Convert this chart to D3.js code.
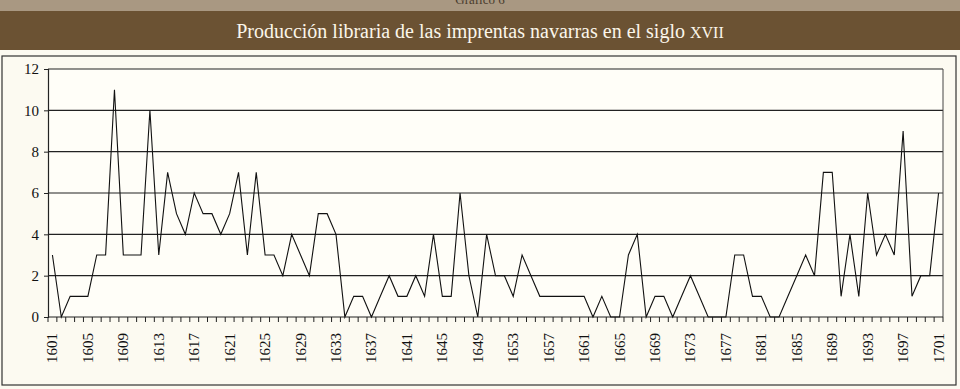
<!DOCTYPE html>
<html>
<head>
<meta charset="utf-8">
<script src="https://cdn.jsdelivr.net/npm/d3@7/dist/d3.min.js"></script>
<style>
  body { margin: 0; background: #fcfaf1; }
  svg { display: block; }
</style>
</head>
<body>
<svg id="chart" width="960" height="389"></svg>
<script>
// years 1601..1701
var years = d3.range(1601, 1702);
// books printed per year
var books = [3,0,1,1,1,3,3,11,3,3,
             3,10,3,7,5,4,6,5,5,4,
             5,7,3,7,3,3,2,4,3,2,
             5,5,4,0,1,1,0,1,2,1,
             1,2,1,4,1,1,6,2,0,4,
             2,2,1,3,2,1,1,1,1,1,
             1,0,1,0,0,3,4,0,1,1,
             0,1,2,1,0,0,0,3,3,1,
             1,0,0,1,2,3,2,7,7,1,
             4,1,6,3,4,3,9,1,2,2,
             6];
var yTicks = [0,2,4,6,8,10,12];
var xLabels = years.filter(function(d){ return (d - 1601) % 4 == 0; });

var title = "Producción libraria de las imprentas navarras en el siglo ";
var titleCaps = "XVII";

var svg = d3.select("#chart");

// header bands
svg.append("rect").attr("x",0).attr("y",0).attr("width",960).attr("height",11).attr("fill","#a99882");
svg.append("text").attr("x",480).attr("y",4).attr("text-anchor","middle")
   .style("font-family","Liberation Serif").style("font-size","13px").attr("fill","#4a3c2e")
   .text("Gráfico 6");
svg.append("rect").attr("x",0).attr("y",11).attr("width",960).attr("height",39).attr("fill","#6b5233");

var t = svg.append("text").attr("x",480).attr("y",38).attr("text-anchor","middle")
   .style("font-family","Liberation Serif").style("font-size","20px").attr("fill","#fbf6ea");
t.append("tspan").text(title);
t.append("tspan").style("font-size","16px").text(titleCaps);

// chart area border
svg.append("rect").attr("x",2).attr("y",56).attr("width",954).attr("height",329)
   .attr("fill","none").attr("stroke","#333").attr("stroke-width",1.2);

var pLeft = 48, pRight = 943, pTop = 69, pBottom = 317;

var x = d3.scaleBand().domain(years).range([pLeft, pRight]).padding(0);
var y = d3.scaleLinear().domain([0, 12]).range([pBottom, pTop]);

var plot = svg.append("g");

plot.append("rect").attr("x",pLeft).attr("y",pTop).attr("width",pRight-pLeft).attr("height",pBottom-pTop)
    .attr("fill","#fffef8");

// gridlines
plot.selectAll(".grid").data(yTicks.filter(function(d){ return d > 0; }))
  .enter().append("line")
    .attr("x1", pLeft).attr("x2", pRight)
    .attr("y1", function(d){ return y(d); }).attr("y2", function(d){ return y(d); })
    .attr("stroke", "#222").attr("stroke-width", 1.2);

// right border
plot.append("line").attr("x1",pRight).attr("x2",pRight).attr("y1",pTop).attr("y2",pBottom)
    .attr("stroke","#444").attr("stroke-width",1);

// y axis
var yAxis = plot.append("g").attr("transform","translate(" + pLeft + ",0)")
    .call(d3.axisLeft(y).tickValues(yTicks).tickSize(4).tickPadding(5));
yAxis.select(".domain").attr("stroke","#222").attr("stroke-width",1.2);
yAxis.selectAll("line").attr("stroke","#222");
yAxis.selectAll("text").style("font-family","Liberation Serif").style("font-size","15px").attr("fill","#111");

// x axis baseline and category ticks
plot.append("line").attr("x1",pLeft).attr("x2",pRight).attr("y1",pBottom).attr("y2",pBottom)
    .attr("stroke","#222").attr("stroke-width",1.2);
plot.selectAll(".xt").data(years.concat([null]))
  .enter().append("line")
    .attr("x1", function(d){ return d === null ? pRight : x(d); })
    .attr("x2", function(d){ return d === null ? pRight : x(d); })
    .attr("y1", pBottom).attr("y2", pBottom + 5)
    .attr("stroke", "#222").attr("stroke-width", 1);

plot.selectAll(".xl").data(xLabels)
  .enter().append("text")
    .attr("transform", function(d){
      return "translate(" + (x(d) + x.bandwidth()/2 + 5) + "," + 333 + ") rotate(-90)";
    })
    .attr("text-anchor","end")
    .style("font-family","Liberation Serif").style("font-size","15px").attr("fill","#111")
    .text(function(d){ return d; });

// the series
var line = d3.line()
    .x(function(d, i){ return x(years[i]) + x.bandwidth()/2; })
    .y(function(d){ return y(d); });

plot.append("path").datum(books)
    .attr("d", line)
    .attr("fill","none").attr("stroke","#111").attr("stroke-width",1.1);
</script>
</body>
</html>
